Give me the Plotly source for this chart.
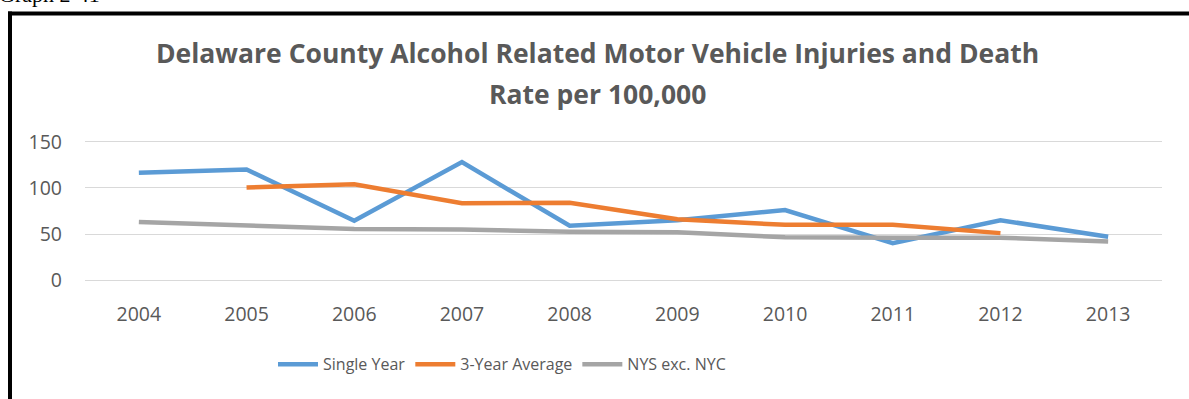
import plotly.graph_objects as go

years = ["2004", "2005", "2006", "2007", "2008", "2009", "2010", "2011", "2012", "2013"]
single_year = [116.5, 120, 64.5, 128, 59, 65, 76, 40, 65, 47]
three_year_avg = [None, 100.5, 104, 83.5, 84, 66, 60, 60, 51, None]
nys_exc_nyc = [63, 59.5, 55.5, 55, 52.5, 52, 46.5, 46, 46, 42]

W, H = 1189, 399
# small padding on the value axis so the 0 and 150 gridlines stay visible
Y_PAD = 2
L, R, T, B = 85, 27, 142 - Y_PAD * 0.92, 119 - Y_PAD * 0.92
text_gray = "#595959"

fig = go.Figure()
for name, vals, color in [
    ("Single Year", single_year, "#5B9BD5"),
    ("3-Year Average", three_year_avg, "#ED7D31"),
    ("NYS exc. NYC", nys_exc_nyc, "#A5A5A5"),
]:
    fig.add_trace(go.Scatter(x=years, y=vals, name=name, mode="lines",
                             line=dict(color=color, width=4.5),
                             connectgaps=False))

def px(x):
    return (x - L) / (W - L - R)

def py(y):
    return (H - B - y) / (H - T - B)

fig.update_layout(
    width=W, height=H,
    margin=dict(l=L, r=R, t=T, b=B),
    paper_bgcolor="white", plot_bgcolor="white",
    font=dict(family="Open Sans", size=18, color=text_gray),
    showlegend=True,
    legend=dict(orientation="h", x=px(273), xanchor="left", y=py(364), yanchor="middle",
                font=dict(size=16, color=text_gray), itemwidth=40, tracegroupgap=0),
    xaxis=dict(type="category", range=[-0.5, 9.5], showgrid=False, showline=False,
               ticks="", ticklabelstandoff=18, tickfont=dict(size=19.5, color=text_gray)),
    yaxis=dict(range=[-Y_PAD, 150 + Y_PAD], tickvals=[0, 50, 100, 150], showgrid=True,
               gridcolor="#D9D9D9", gridwidth=1.2, zeroline=False, showline=False,
               ticks="", ticklabelstandoff=22, tickfont=dict(size=19.5, color=text_gray)),
    annotations=[
        dict(text="<b>Delaware County Alcohol Related Motor Vehicle Injuries and Death</b>",
             xref="paper", yref="paper", x=px(597), y=py(53), xanchor="center", yanchor="middle",
             showarrow=False, font=dict(family="Open Sans", size=26.5, color=text_gray)),
        dict(text="<b>Rate per 100,000</b>",
             xref="paper", yref="paper", x=px(597), y=py(94), xanchor="center", yanchor="middle",
             showarrow=False, font=dict(family="Open Sans", size=26.5, color=text_gray)),
        dict(text="Graph 2-41",
             xref="paper", yref="paper", x=px(-3), y=py(9), xanchor="left", yanchor="bottom",
             showarrow=False, font=dict(family="Liberation Serif", size=22, color="black")),
    ],
    shapes=[
        dict(type="line", xref="paper", yref="paper", x0=px(10), x1=px(10), y0=py(12), y1=py(405),
             line=dict(color="black", width=4)),
        dict(type="line", xref="paper", yref="paper", x0=px(8), x1=px(1195), y0=py(14), y1=py(14),
             line=dict(color="black", width=4)),
    ],
)

fig.write_html("out.html")
